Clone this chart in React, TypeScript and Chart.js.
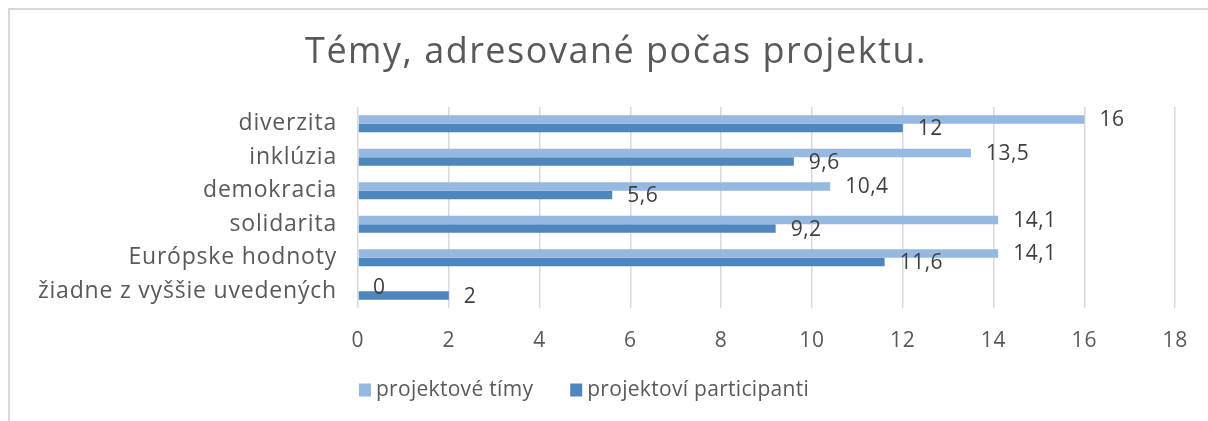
import React, { useEffect, useRef } from 'react';
import { Chart, registerables } from 'chart.js';

Chart.register(...registerables);

const chartTitle = 'Témy, adresované počas projektu.';
const categories = [
  'diverzita',
  'inklúzia',
  'demokracia',
  'solidarita',
  'Európske hodnoty',
  'žiadne z vyššie uvedených',
];
const seriesNames = ['projektové tímy', 'projektoví participanti'];
const projektoveTimy = [16, 13.5, 10.4, 14.1, 14.1, 0];
const projektoviParticipanti = [12, 9.6, 5.6, 9.2, 11.6, 2];
const xTickValues = [0, 2, 4, 6, 8, 10, 12, 14, 16, 18];
const seriesColors = ['#95B9E1', '#4E86BE'];

const FONT = '"Open Sans", "Noto Sans", sans-serif';
const W = 1198;
const H = 411;

if (typeof document !== 'undefined') {
  document.documentElement.style.overflow = 'hidden';
  document.body.style.overflow = 'hidden';
  document.body.style.margin = '0';
}

export default function App() {
  const ref = useRef<HTMLCanvasElement>(null);

  useEffect(() => {
    const canvas = ref.current!;

    const custom = {
      id: 'customTexts',
      beforeUpdate(chart: any) {
        chart.ctx.letterSpacing = '0.8px';
      },
      afterDatasetsDraw(chart: any) {
        const ctx = chart.ctx;
        ctx.save();
        ctx.letterSpacing = '0.5px';
        ctx.font = `21px ${FONT}`;
        ctx.fillStyle = '#404040';
        ctx.textBaseline = 'middle';
        ctx.textAlign = 'left';
        chart.data.datasets.forEach((ds: any, i: number) => {
          chart.getDatasetMeta(i).data.forEach((el: any, j: number) => {
            const v = ds.data[j];
            ctx.fillText(String(v).replace('.', ','), el.x + 15, el.y + 1);
          });
        });
        ctx.restore();
      },
      afterDraw(chart: any) {
        const ctx = chart.ctx;
        ctx.save();
        // title
        ctx.letterSpacing = '1.5px';
        ctx.font = `36px ${FONT}`;
        ctx.fillStyle = '#595959';
        ctx.textAlign = 'center';
        ctx.textBaseline = 'middle';
        ctx.fillText(chartTitle, 606, 43);

        // legend
        ctx.letterSpacing = '0.3px';
        ctx.font = `21px ${FONT}`;
        ctx.textAlign = 'left';
        const box = 12;
        const gapText = 5;
        const gapItem = 37;
        const widths = seriesNames.map((n) => ctx.measureText(n).width);
        const total =
          widths.reduce((a, b) => a + b, 0) + seriesNames.length * (box + gapText) + gapItem * (seriesNames.length - 1);
        let x = 574 - total / 2;
        const cy = 380;
        seriesNames.forEach((n, i) => {
          ctx.fillStyle = seriesColors[i];
          ctx.fillRect(x, cy - 6.5, box, 13);
          x += box + gapText;
          ctx.fillStyle = '#595959';
          ctx.fillText(n, x, cy);
          x += widths[i] + gapItem;
        });
        ctx.restore();
      },
    };

    const chart = new Chart(canvas, {
      type: 'bar',
      data: {
        labels: categories,
        datasets: [
          {
            label: seriesNames[0],
            data: projektoveTimy,
            backgroundColor: seriesColors[0],
            categoryPercentage: 0.51,
            barPercentage: 1,
          },
          {
            label: seriesNames[1],
            data: projektoviParticipanti,
            backgroundColor: seriesColors[1],
            categoryPercentage: 0.51,
            barPercentage: 1,
          },
        ],
      },
      options: {
        indexAxis: 'y',
        responsive: false,
        animation: false,
        devicePixelRatio: 1,
        layout: { padding: { top: 97, left: 0, right: W - 1169, bottom: H - 403 } },
        plugins: {
          legend: { display: false },
          title: { display: false },
          tooltip: { enabled: false },
        },
        scales: {
          x: {
            type: 'linear',
            min: 0,
            max: 18,
            afterBuildTicks: (s: any) => {
              s.ticks = xTickValues.map((v) => ({ value: v }));
            },
            afterFit: (s: any) => {
              s.height = 105;
            },
            ticks: {
              padding: 20,
              color: '#595959',
              font: { family: FONT, size: 21 },
              callback: (v: any) => String(v),
            },
            grid: { color: '#d9d9d9', lineWidth: 1.5, drawTicks: false },
            border: { display: false },
          },
          y: {
            afterFit: (s: any) => {
              s.width = 348;
            },
            ticks: {
              padding: 21,
              color: '#595959',
              font: { family: FONT, size: 23 },
            },
            grid: { display: false, drawTicks: false },
            border: { display: false },
          },
        },
      },
      plugins: [custom],
    } as any);

    return () => chart.destroy();
  }, []);

  return (
    <div
      style={{
        marginLeft: 8,
        marginTop: 8,
        borderTop: '2px solid #d9d9d9',
        borderLeft: '2px solid #d9d9d9',
        width: 1230,
        height: H,
        background: '#fff',
      }}
    >
      <canvas ref={ref} width={W} height={H} style={{ display: 'block' }} />
    </div>
  );
}
